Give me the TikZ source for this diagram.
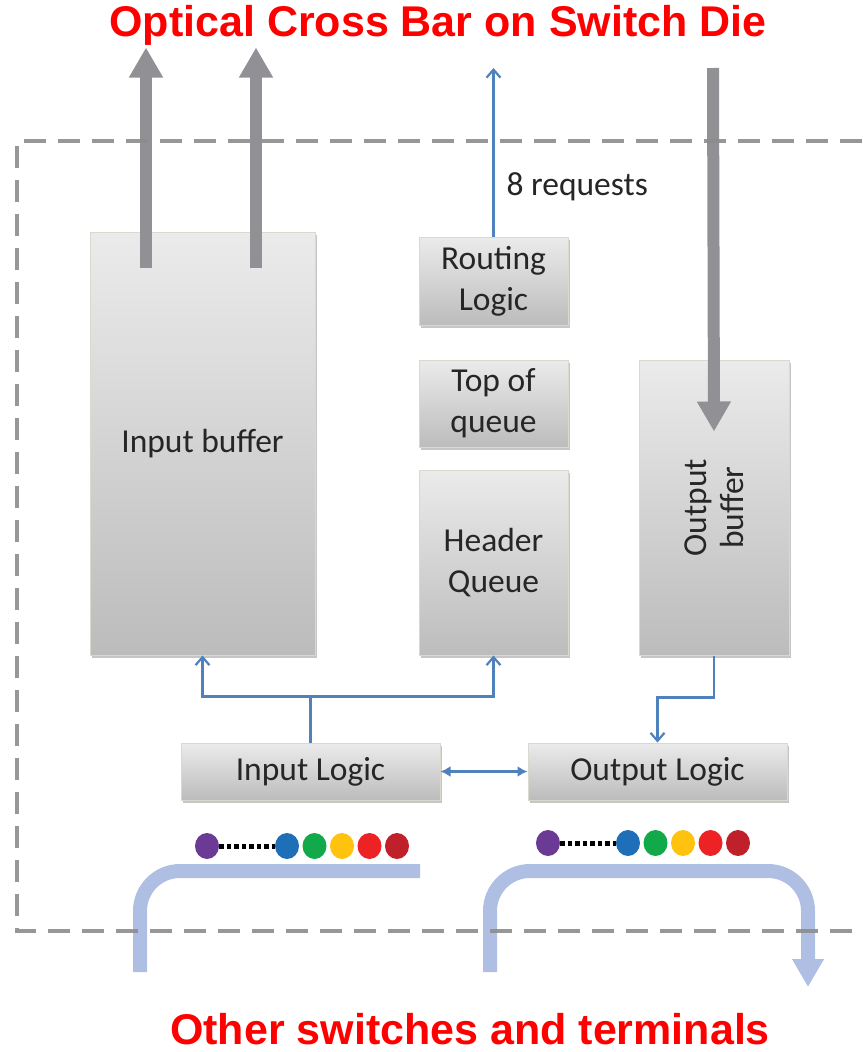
\documentclass[tikz,border=0pt]{standalone}
\usepackage{fontspec}
\setmainfont{Carlito}
\newfontfamily\titlefont{Liberation Sans}
\usetikzlibrary{arrows.meta,shapes.geometric,shadows}
\definecolor{boxtop}{HTML}{EBEBEB}
\definecolor{boxbot}{HTML}{BCBCBC}
\definecolor{boxline}{HTML}{D9D9D0}
\definecolor{bigarr}{HTML}{909095}
\definecolor{sigblue}{HTML}{4F81BD}
\definecolor{fibre}{HTML}{AEBFE3}
\definecolor{dashgray}{HTML}{8C8C8C}
\definecolor{beadpurple}{HTML}{6A3A95}
\definecolor{beadblue}{HTML}{1F6FB8}
\definecolor{beadgreen}{HTML}{12A94B}
\definecolor{beadyellow}{HTML}{FEC20F}
\definecolor{beadred}{HTML}{ED2224}
\definecolor{beaddark}{HTML}{C0202A}
\begin{document}
\begin{tikzpicture}[
    x=1pt, y=-1pt,
    block/.style={draw=boxline, line width=1pt, rectangle, top color=boxtop, bottom color=boxbot,
        drop shadow={shadow xshift=2pt, shadow yshift=-3pt, opacity=0.45},
        align=center, text=black!85, font=\fontsize{33.5}{41}\selectfont},
    bigarrow/.style={draw=bigarr, line width=12pt, -{Triangle[width=32pt,length=30pt]}},
    sigarrow/.style={draw=sigblue, line width=2.2pt, -{Straight Barb[length=8pt,width=14pt]}},
    fibreline/.style={draw=fibre, line width=14pt, rounded corners=40pt},
    bead/.style={ellipse, inner sep=0pt, minimum width=24pt, minimum height=26pt},
    heading/.style={text=red, inner sep=0pt, font=\titlefont\bfseries\fontsize{43}{50}\selectfont}
]
    \useasboundingbox (0,0) rectangle (862,1052);

    % Titles
    \node[heading] (toptitle) at (438,25) {Optical Cross Bar on Switch Die};
    \node[heading] (bottitle) at (470,1029) {Other switches and terminals};

    % Buffers and logic blocks
    \node[block, minimum width=225pt, minimum height=423pt] (inbuf) at (202.5,443.5) {Input buffer};
    \node[block, minimum width=149pt, minimum height=88pt] (routing) at (493.5,281) {Routing\\Logic};
    \node[block, minimum width=149pt, minimum height=87pt] (topq) at (493.5,403.5) {Top of\\queue};
    \node[block, minimum width=149pt, minimum height=185pt] (hdrq) at (493.5,562.5) {Header\\Queue};
    \node[block, minimum width=150pt, minimum height=295pt] (outbuf) at (714,507.5) {};
    \node[rotate=90, align=center, text=black!85, font=\fontsize{33.5}{37}\selectfont] (outbuftxt) at (outbuf.center) {Output\\buffer};
    \node[block, minimum width=259pt, minimum height=57pt] (inlogic) at (310.5,771.5) {Input Logic};
    \node[block, minimum width=259pt, minimum height=57pt] (outlogic) at (657.5,771.5) {Output Logic};

    % Cross bar arrows
    \draw[bigarrow] ([xshift=-56.5pt,yshift=-36pt]inbuf.north) -- ++(0,-220);
    \draw[bigarrow] ([xshift=53.5pt,yshift=-36pt]inbuf.north) -- ++(0,-220);
    \coordinate (xbarin) at (713,68);
    \draw[bigarrow] (xbarin) -- ([yshift=-72pt]outbuf.north);

    % Requests
    \coordinate (reqout) at (493.5,68);
    \draw[sigarrow] (routing.north) -- (reqout);
    \node[anchor=west, text=black!85, font=\fontsize{33.5}{38}\selectfont] (reqlabel) at (503,187) {8 requests};

    % Signal lines
    \draw[sigarrow] (inlogic.north) -- ++(0,-46) -| (inbuf.south);
    \draw[sigarrow] (inlogic.north) -- ++(0,-46) -| (hdrq.south);
    \draw[sigarrow] (outbuf.south) -- ++(0,42) -| (outlogic.north);
    \draw[draw=sigblue, line width=2.2pt, {Latex[length=10pt,width=11pt]}-{Latex[length=10pt,width=11pt]}] (inlogic.east) -- (outlogic.west);

    % Fibres
    \coordinate (lfin) at (140,972);
    \coordinate (lfend) at (420,871);
    \draw[fibreline] (lfin) -- (140,871) -- (lfend);
    \coordinate (rfin) at (490,972);
    \coordinate (rfout) at (808,987);
    \draw[fibreline, -{Triangle[width=30pt,length=28pt]}] (rfin) -- (490,871) -- (808,871) -- (rfout);

    % Packets
    \foreach \side/\dx/\yy in {l/0/846, r/341/843} {
        \node[bead, fill=beadpurple] (\side p0) at (207+\dx,\yy) {};
        \foreach \c [count=\i] in {beadblue,beadgreen,beadyellow,beadred,beaddark}
            \node[bead, fill=\c] (\side p\i) at (287+\dx+27.5*\i-27.5,\yy) {};
        \draw[black, line width=5pt, dash pattern=on 4.5pt off 3pt] (\side p0.east) -- (\side p1.west);
    }

    % Switch boundary
    \draw[dashgray, line width=3.5pt, dash pattern=on 22pt off 12pt, opacity=0.9] (862,141) -- (17,141) -- (17,931) -- (862,931);

\end{tikzpicture}
\end{document}
